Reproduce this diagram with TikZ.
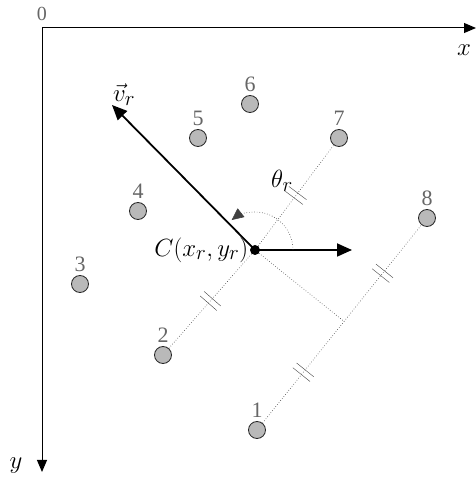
\documentclass[tikz,border=0pt]{standalone}
\usepackage{amsmath,amssymb}
\usepackage[no-math]{fontspec}
\newfontfamily\numfont{Liberation Serif}
\usepackage{xcolor}
\usepackage{tikz}
\usetikzlibrary{arrows.meta,positioning,calc,decorations.markings}
\tikzset{
  anc/.style={circle, draw=black!85, fill=gray!55, thick, minimum size=17pt, inner sep=0pt, label distance=-2pt},
  farr/.style={-{Triangle[length=15pt,width=13pt]}, line width=1.8pt},
  axarr/.style={-{Triangle[length=12pt,width=10pt]}, line width=1pt},
  dline/.style={dotted, gray!50!black, semithick},
  eqm/.style={postaction={decorate, decoration={markings, mark=at position 0.5 with {\draw[solid, black!75, thin] (-3pt,-11pt)--(-3pt,11pt) (3pt,-11pt)--(3pt,11pt);}}}},
  lbl/.style={font=\numfont\fontsize{22}{24}\selectfont, text=black!60},
  mlbl/.style={font=\Huge}
}
\begin{document}
\begin{tikzpicture}[x=1pt,y=1pt]
\useasboundingbox (0,0) rectangle (476,488);
% axes
\coordinate (o) at (42,460);
\coordinate (xe) at (476,460);
\coordinate (ye) at (42,16);
\draw[axarr] (o) -- (xe);
\draw[axarr] (o) -- (ye);
\node[text=black!60, inner sep=0pt] (l0) at (42,474) {\numfont\fontsize{20}{22}\selectfont 0};
\node[mlbl] (lx) at (464,438) {$x$};
\node[mlbl] (ly) at (16,22) {$y$};
% anchors
\node[anc, label={[lbl]above:1}] (n1) at (257,58) {};
\node[anc, label={[lbl]above:2}] (n2) at (163,133) {};
\node[anc, label={[lbl]above:3}] (n3) at (80,204) {};
\node[anc, label={[lbl]above:4}] (n4) at (138,277) {};
\node[anc, label={[lbl]above:5}] (n5) at (198,350) {};
\node[anc, label={[lbl]above:6}] (n6) at (250,384) {};
\node[anc, label={[lbl]above:7}] (n7) at (339,350) {};
\node[anc, label={[lbl]above:8}] (n8) at (427,270) {};
% robot
\node[circle, fill=black, inner sep=0pt, minimum size=10pt] (c) at (255,238) {};
\coordinate (vt) at (112,383);
\coordinate (ht) at (352,238);
\coordinate (ft) at ($(n1)!(c)!(n8)$);
\draw[dline, eqm] (c) -- (n7);
\draw[dline, eqm] (c) -- (n2);
\draw[dline] (c) -- (ft);
\draw[dline, eqm] (n1) -- (ft);
\draw[dline, eqm] (ft) -- (n8);
\draw[farr] (c.center) -- (vt);
\draw[farr] (c.center) -- (ht);
\draw[dline, -{Triangle[length=12pt,width=11pt]}] ($(c)+(38,0)$) arc[start angle=0, end angle=128, radius=38];
\node[mlbl, left=-2pt of c] (cl) {$C(x_r, y_r)$};
\node[mlbl] (lv) at (124,393) {$\vec{v}_r$};
\node[mlbl] (lt) at (282,307) {$\theta_r$};
\end{tikzpicture}
\end{document}
